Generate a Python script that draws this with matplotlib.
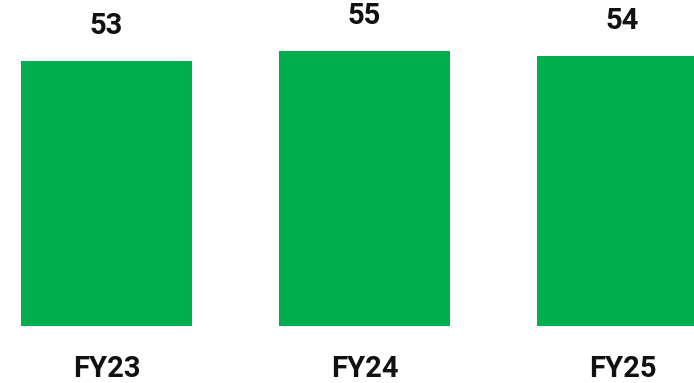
import matplotlib
matplotlib.use("Agg")
import matplotlib.pyplot as plt

categories = ["FY23", "FY24", "FY25"]
values = [53, 55, 54]

plt.rcParams['font.family'] = ['Roboto', 'DejaVu Sans']

fig = plt.figure(figsize=(6.94, 3.83), dpi=100)
ax = fig.add_axes([0, 57/383, 1, 326/383])
x = list(range(len(categories)))
bars = ax.bar(x, values, width=171/258, color="#00AE50")
ax.set_xlim(-106.5/258, (694-106.5)/258)
ax.set_ylim(0, 326/5)
for b, v in zip(bars, values):
    ax.annotate(str(v), (b.get_x() + b.get_width()/2, b.get_height()),
                xytext=(0, 15), textcoords='offset points',
                ha='center', va='bottom', fontsize=21, fontweight='bold', color='#111111')
ax.set_xticks(x)
ax.set_xticklabels(categories, fontsize=21, fontweight='bold', color='#111111')
ax.tick_params(axis='x', length=0, pad=21)
ax.set_yticks([])
for s in ax.spines.values():
    s.set_visible(False)
fig.savefig("out.png", dpi=100)
